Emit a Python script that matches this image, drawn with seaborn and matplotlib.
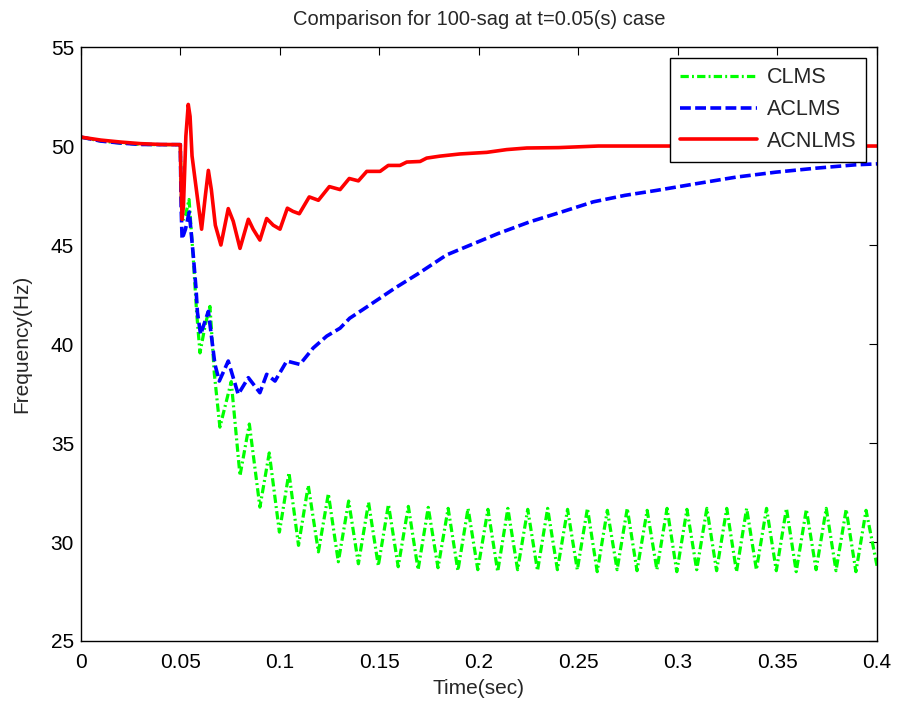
import numpy as np
import pandas as pd
import matplotlib
matplotlib.use('Agg')
import matplotlib.pyplot as plt
import seaborn as sns

# values
red_t = [0, 0.01, 0.02, 0.03, 0.04, 0.0499, 0.0503, 0.0508, 0.0515, 0.0527, 0.0539, 0.0548,
         0.0558, 0.0572, 0.059, 0.0606, 0.0625, 0.064, 0.0655, 0.0675, 0.0703, 0.074, 0.0765,
         0.0799, 0.0841, 0.0865, 0.0899, 0.0933, 0.0966, 0.1, 0.1037, 0.1065, 0.1097, 0.1147,
         0.1193, 0.1248, 0.1302, 0.1348, 0.1394, 0.1436, 0.1503, 0.1544, 0.1603, 0.1637, 0.1704,
         0.1737, 0.1804, 0.1905, 0.2039, 0.2139, 0.224, 0.24, 0.26, 0.3, 0.35, 0.4]
red_f = [50.45, 50.3, 50.2, 50.12, 50.08, 50.07, 48.0, 46.3, 47.0, 50.5, 52.1, 51.5,
         49.5, 48.4, 47.0, 45.8, 47.5, 48.77, 47.8, 46.0, 45.0, 46.84, 46.2,
         44.83, 46.3, 45.8, 45.25, 46.34, 46.0, 45.8, 46.86, 46.7, 46.58, 47.43,
         47.26, 47.95, 47.8, 48.36, 48.24, 48.72, 48.72, 49.02, 49.02, 49.19, 49.22,
         49.39, 49.49, 49.6, 49.68, 49.82, 49.9, 49.92, 50.0, 50.0, 50.0, 50.0]

blue_t = [0, 0.01, 0.02, 0.03, 0.04, 0.0499, 0.0503, 0.0508, 0.0525, 0.0544, 0.0564, 0.0578,
          0.0585, 0.0601, 0.064, 0.0673, 0.0695, 0.074, 0.079, 0.0841, 0.0899, 0.0933, 0.0975,
          0.1034, 0.11, 0.1167, 0.1235, 0.1302, 0.135, 0.1418, 0.15, 0.1577, 0.1697, 0.1837,
          0.1976, 0.2096, 0.2255, 0.2415, 0.2574, 0.2734, 0.2893, 0.3093, 0.3292, 0.3492,
          0.3692, 0.389, 0.4]
blue_f = [50.45, 50.25, 50.15, 50.08, 50.07, 50.07, 47.0, 45.3, 45.8, 46.67, 44.5, 42.8,
          41.6, 40.48, 41.65, 38.97, 38.13, 39.14, 37.46, 38.3, 37.54, 38.47, 38.13,
          39.14, 38.97, 39.8, 40.4, 40.8, 41.3, 41.75, 42.3, 42.82, 43.57, 44.5,
          45.08, 45.58, 46.17, 46.67, 47.18, 47.51, 47.76, 48.1, 48.43, 48.68,
          48.88, 49.05, 49.1]

green_t = [0, 0.01, 0.02, 0.03, 0.04, 0.0499, 0.0504, 0.0509, 0.0525, 0.0543, 0.0565, 0.0581,
           0.0598, 0.0625, 0.0648, 0.067, 0.0698, 0.0755, 0.0799, 0.0846, 0.0899, 0.0946,
           0.0997, 0.1045, 0.1093, 0.1142, 0.1193, 0.1243, 0.1293, 0.1345, 0.1394,
           0.1445, 0.1494, 0.1545, 0.1594, 0.1645, 0.1694, 0.1745, 0.1794, 0.1845, 0.1894,
           0.1945, 0.1994, 0.2045, 0.2094, 0.2145, 0.2194, 0.2245, 0.2294, 0.2345, 0.2394,
           0.2445, 0.2494, 0.2545, 0.2594, 0.2645, 0.2694, 0.2745, 0.2794, 0.2845, 0.2894,
           0.2945, 0.2994, 0.3045, 0.3094, 0.3145, 0.3194, 0.3245, 0.3294, 0.3345, 0.3394,
           0.3445, 0.3494, 0.3545, 0.3594, 0.3645, 0.3694, 0.3745, 0.3794, 0.3845, 0.3894,
           0.3945, 0.4]
green_f = [50.45, 50.25, 50.15, 50.08, 50.07, 50.07, 47.5, 46.2, 46.5, 47.3, 44.2, 41.6,
           39.55, 41.0, 41.9, 38.5, 35.8, 38.1, 33.35, 35.96, 31.76, 34.5,
           30.5, 33.5, 29.83, 32.86, 29.5, 32.44, 29.0, 32.07, 28.9,
           32.0, 28.8, 31.9, 28.75, 31.8, 28.6, 31.75, 28.7, 31.7, 28.55,
           31.7, 28.6, 31.65, 28.5, 31.7, 28.6, 31.65, 28.55, 31.7, 28.6,
           31.65, 28.6, 31.7, 28.5, 31.6, 28.6, 31.7, 28.55, 31.6, 28.6,
           31.7, 28.5, 31.65, 28.6, 31.7, 28.55, 31.7, 28.5, 31.7, 28.6,
           31.7, 28.55, 31.7, 28.5, 31.65, 28.6, 31.7, 28.55, 31.65, 28.5,
           31.6, 28.8]

sns.set_style('white')
plt.rcParams['font.family'] = ['Liberation Sans', 'DejaVu Sans']

fig = plt.figure(figsize=(8.97, 7.03), dpi=100)
ax = fig.add_axes([0.0903, 0.0882, 0.8874, 0.8449])

sns.lineplot(x=green_t, y=green_f, ax=ax, color='#00ff00', lw=2.3, sort=False,
             estimator=None, label='CLMS')
sns.lineplot(x=blue_t, y=blue_f, ax=ax, color='#0000ff', lw=2.6, sort=False,
             estimator=None, label='ACLMS')
sns.lineplot(x=red_t, y=red_f, ax=ax, color='#ff0000', lw=2.6, sort=False,
             estimator=None, label='ACNLMS')

ax.lines[0].set_dashes([2.6, 1.0, 0.6, 1.0])
ax.lines[1].set_dashes([3.0, 1.2])

ax.set_xlim(0, 0.4)
ax.set_ylim(25, 55)
ax.set_xticks([0, 0.05, 0.1, 0.15, 0.2, 0.25, 0.3, 0.35, 0.4])
ax.set_xticklabels(['0', '0.05', '0.1', '0.15', '0.2', '0.25', '0.3', '0.35', '0.4'])
ax.set_yticks([25, 30, 35, 40, 45, 50, 55])
ax.tick_params(direction='in', length=6, width=0.8, top=True, right=True,
               labelsize=15, colors='black')
ax.tick_params(axis='x', pad=9)
ax.tick_params(axis='y', pad=5)
for s in ax.spines.values():
    s.set_color('black')
    s.set_linewidth(1.0)

ax.set_title('Comparison for 100-sag at t=0.05(s) case', fontsize=14.5, pad=16)
ax.set_xlabel('Time(sec)', fontsize=15, labelpad=5)
ax.set_ylabel('Frequency(Hz)', fontsize=15, labelpad=14)

leg = ax.legend(loc='upper right', fontsize=15.5, handlelength=3.6, frameon=True,
                fancybox=False, framealpha=1, borderaxespad=0.5, borderpad=0.45,
                labelspacing=0.5, handletextpad=0.45)
leg.get_frame().set_edgecolor('black')
leg.get_frame().set_linewidth(1.0)
leg.get_lines()[0].set_dashes([2.6, 1.0, 0.6, 1.0])
leg.get_lines()[1].set_dashes([3.0, 1.2])

fig.savefig('out.png', dpi=100)
